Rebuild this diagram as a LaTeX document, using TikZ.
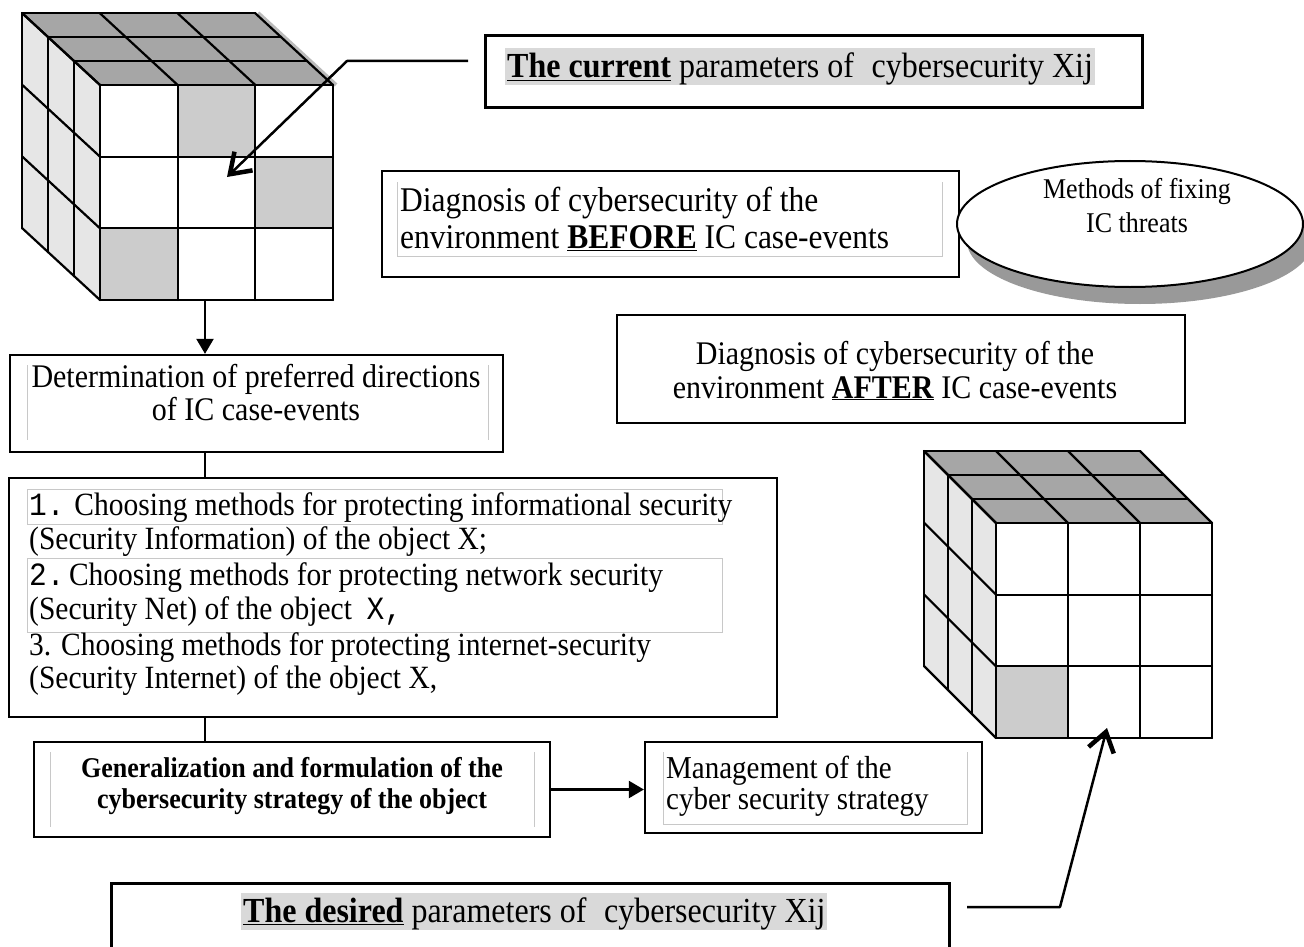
\documentclass[tikz,border=0pt]{standalone}
\usepackage{fontspec}
\usepackage{graphicx}
\setmainfont{Liberation Serif}
\setmonofont{Liberation Mono}
\usetikzlibrary{arrows.meta,shapes.geometric}
\definecolor{topgray}{HTML}{A6A6A6}
\definecolor{sidegray}{HTML}{E6E6E6}
\definecolor{cellgray}{HTML}{CCCCCC}
\definecolor{hlgray}{HTML}{D9D9D9}
\definecolor{framegray}{HTML}{C8C8C8}
\definecolor{shadowgray}{HTML}{999999}
\definecolor{edgeshade}{HTML}{BBBBBB}
\newcommand\sz[2]{\scalebox{1}[1.1]{\fontsize{#1}{#1}\selectfont #2}}
\newcommand\cubeDraw[7]{%
\pgfmathsetmacro\fx{#1}\pgfmathsetmacro\fy{#2}\pgfmathsetmacro\cw{#3}%
\pgfmathsetmacro\ch{#4}\pgfmathsetmacro\ddx{#5}\pgfmathsetmacro\ddy{#6}%
\fill[topgray] (\fx,\fy) -- ({\fx+3*\cw},\fy) -- ({\fx+3*\cw+3*\ddx},{\fy+3*\ddy}) -- ({\fx+3*\ddx},{\fy+3*\ddy}) -- cycle;
\fill[sidegray] (\fx,\fy) -- (\fx,{\fy+3*\ch}) -- ({\fx+3*\ddx},{\fy+3*\ch+3*\ddy}) -- ({\fx+3*\ddx},{\fy+3*\ddy}) -- cycle;
\fill[white] (\fx,\fy) rectangle ({\fx+3*\cw},{\fy+3*\ch});
\foreach \ci/\cj in {#7} \fill[cellgray] ({\fx+\ci*\cw},{\fy+\cj*\ch}) rectangle ({\fx+(\ci+1)*\cw},{\fy+(\cj+1)*\ch});
\foreach \k in {0,...,3} {
 \draw[cubeline] ({\fx+\k*\cw},\fy) -- ({\fx+\k*\cw},{\fy+3*\ch});
 \draw[cubeline] (\fx,{\fy+\k*\ch}) -- ({\fx+3*\cw},{\fy+\k*\ch});
 \draw[cubeline] ({\fx+\k*\cw},\fy) -- ({\fx+\k*\cw+3*\ddx},{\fy+3*\ddy});
 \draw[cubeline] (\fx,{\fy+\k*\ch}) -- ({\fx+3*\ddx},{\fy+\k*\ch+3*\ddy});
 \draw[cubeline] ({\fx+\k*\ddx},{\fy+\k*\ddy}) -- ({\fx+3*\cw+\k*\ddx},{\fy+\k*\ddy});
 \draw[cubeline] ({\fx+\k*\ddx},{\fy+\k*\ddy}) -- ({\fx+\k*\ddx},{\fy+3*\ch+\k*\ddy});
}}
\begin{document}
\begin{tikzpicture}[x=1pt,y=-1pt,
 box/.style={draw=black, line width=2.3pt, rectangle, inner sep=0pt, fill=white},
 txt/.style={inner sep=0pt, anchor=base west},
 ctxt/.style={inner sep=0pt, anchor=base},
 frm/.style={draw=framegray, line width=0.9pt},
 conn/.style={line width=2.3pt},
 barb/.style={line width=2.5pt, line join=round, -{Straight Barb[length=19pt,width=26pt,line width=4.5pt]}},
 tri/.style={line width=2.3pt, -{Triangle[length=15pt,width=17pt]}},
 cubeline/.style={line width=2.2pt, line join=round, line cap=round}]
\useasboundingbox (0,0) rectangle (1304,947);
\fill[white] (0,0) rectangle (1304,947);

% ---- top-left cube
\draw[edgeshade, line width=4pt] (258,13) -- (336,85);
\cubeDraw{100}{85}{77.67}{71.67}{-26}{-24}{1/0,2/1,0/2}
\coordinate (c1b) at (205,300);
\coordinate (c1tip) at (227,177);

% ---- current parameters box
\node[box, line width=3pt, minimum width=657, minimum height=72] (cur) at (813.5,72) {};
\node[txt, fill=hlgray, text height=30pt, text depth=7pt, inner xsep=2pt] (curt) at (505,78)
 {\sz{32}{\underline{\textbf{The current}} parameters of\hspace{0.3em} cybersecurity Xij}};
\coordinate (a1s) at (468,61);
\coordinate (a1b) at (347,61);
\draw[barb] (a1s) -- (a1b) -- (c1tip);

% ---- BEFORE box
\node[box, minimum width=577, minimum height=106] (bef) at (670.5,224) {};
\draw[frm] (397,182) -- (397,256) -- (942,256) -- (942,182);
\node[txt] (bef1) at (400,211) {\sz{31.5}{Diagnosis of cybersecurity of the}};
\node[txt] (bef2) at (400,248) {\sz{31.5}{environment \underline{\textbf{BEFORE}} IC case-events}};

% ---- ellipse
\fill[shadowgray] (1140,241) ellipse [x radius=173, y radius=63];
\node[ellipse, draw, line width=2pt, fill=white, minimum width=346, minimum height=126, inner sep=0pt] (meth) at (1130,224) {};
\node[ctxt] (meth1) at (1137,198) {\sz{26}{Methods of fixing}};
\node[ctxt] (meth2) at (1137,232) {\sz{26}{IC threats}};

% ---- AFTER box
\node[box, minimum width=568, minimum height=108] (aft) at (901,369) {};
\node[ctxt] (aft1) at (895,364) {\sz{30}{Diagnosis of cybersecurity of the}};
\node[ctxt] (aft2) at (895,398) {\sz{30}{environment \underline{\textbf{AFTER}} IC case-events}};

% ---- Determination box
\node[box, minimum width=493, minimum height=97] (det) at (256.5,403.5) {};
\draw[frm] (27,365) -- (27,440);
\draw[frm] (488,365) -- (488,440);
\node[ctxt] (det1) at (256,387) {\sz{30}{Determination of preferred directions}};
\node[ctxt] (det2) at (256,420) {\sz{30}{of IC case-events}};

% ---- list box
\node[box, minimum width=768, minimum height=239] (list) at (393,597.5) {};
\draw[frm] (27,489) rectangle (722,524);
\draw[frm] (27,558) rectangle (722,632);
\node[txt] (l1) at (29,515) {\sz{29.5}{{\ttfamily 1.} Choosing methods for protecting informational security}};
\node[txt] (l2) at (29,549) {\sz{29.5}{(Security Information) of the object X;}};
\node[txt] (l3) at (29,585) {\sz{29.5}{{\ttfamily 2.}\hspace{0.15em}Choosing methods for protecting network security}};
\node[txt] (l4) at (29,619) {\sz{29.5}{(Security Net) of the object \ {\ttfamily X,}}};
\node[txt] (l5) at (29,655) {\sz{29.5}{3. Choosing methods for protecting internet-security}};
\node[txt] (l6) at (29,688) {\sz{29.5}{(Security Internet) of the object X,}};

% ---- Generalization box
\node[box, minimum width=516, minimum height=95] (gen) at (292,789.5) {};
\draw[frm] (534,752) -- (534,827);
\draw[frm] (50,752) -- (50,827);
\node[ctxt] (gen1) at (292,777) {\sz{26}{\bfseries Generalization and formulation of the}};
\node[ctxt] (gen2) at (292,808) {\sz{26}{\bfseries cybersecurity strategy of the object}};

% ---- Management box
\node[box, minimum width=337, minimum height=91] (mgmt) at (813.5,787.5) {};
\draw[frm] (663,752) -- (663,824) -- (967,824) -- (967,752);
\node[txt] (m1) at (666,778) {\sz{29}{Management of the}};
\node[txt] (m2) at (666,809) {\sz{29}{cyber security strategy}};

% ---- bottom-right cube
\cubeDraw{996}{523}{72}{71.67}{-24}{-24}{0/2}
\coordinate (c2tip) at (1107,728);

% ---- desired box
\node[box, line width=3pt, minimum width=838, minimum height=77] (des) at (530,921.5) {};
\node[txt, fill=hlgray, text height=29pt, text depth=8pt, inner xsep=2pt] (dest) at (241,922)
 {\sz{32}{\underline{\textbf{The desired}} parameters of\hspace{0.3em} cybersecurity Xij}};
\coordinate (d1s) at (967,907);
\coordinate (d1b) at (1060,907);
\draw[barb] (d1s) -- (d1b) -- (c2tip);

% ---- connectors
\draw[tri] (c1b) -- (det.north -| c1b);
\draw[conn] (det.south -| c1b) -- (list.north -| c1b);
\draw[conn] (list.south -| c1b) -- (gen.north -| c1b);
\draw[tri] (gen.east) -- (gen.east -| mgmt.west);
\end{tikzpicture}
\end{document}
